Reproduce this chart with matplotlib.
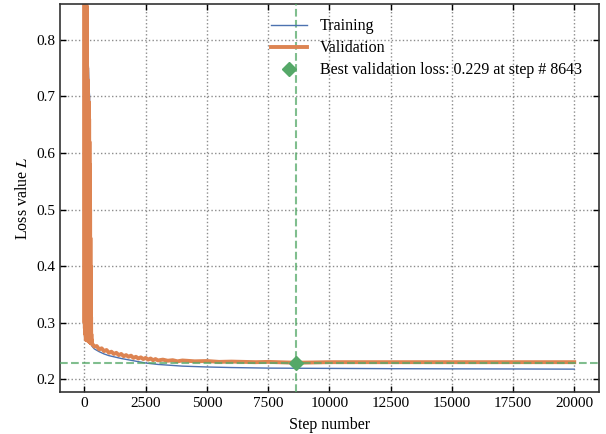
import numpy as np
import matplotlib
matplotlib.use("Agg")
import matplotlib.pyplot as plt

# training loss
train_steps = [0, 50, 100, 140, 160, 190, 210, 240, 270, 300, 400, 600, 800, 1000,
               1500, 2000, 2500, 3000, 4000, 5000, 6000, 7500, 10000, 12500,
               15000, 17500, 20000]
train_loss = [0.95, 0.90, 0.84, 0.76, 0.752, 0.71, 0.70, 0.48, 0.28, 0.259, 0.254,
              0.249, 0.245, 0.242, 0.237, 0.233, 0.229, 0.2265, 0.2235, 0.222,
              0.221, 0.220, 0.2195, 0.219, 0.2187, 0.2185, 0.2182]

# validation loss, first 300 steps (every 5 steps, very noisy)
val_steps_early = list(range(0, 300, 5))
val_loss_early = [1.00, 0.30, 0.96, 0.29, 0.93, 0.28, 0.91, 0.28, 0.90, 0.28,
                  0.89, 0.27, 0.88, 0.27, 0.87, 0.27, 0.86, 0.27, 0.80, 0.27,
                  0.76, 0.27, 0.75, 0.27, 0.73, 0.27, 0.71, 0.27, 0.70, 0.268,
                  0.70, 0.268, 0.69, 0.268, 0.69, 0.267, 0.68, 0.267, 0.66, 0.267,
                  0.62, 0.266, 0.58, 0.266, 0.55, 0.266, 0.50, 0.265, 0.45, 0.265,
                  0.40, 0.265, 0.35, 0.264, 0.31, 0.264, 0.28, 0.263, 0.27, 0.264]
# validation loss, rest of the run
val_steps_late = [300, 400, 500, 600, 700, 800, 900, 1000, 1100, 1200, 1300, 1400,
                  1500, 1600, 1700, 1800, 1900, 2000, 2100, 2200, 2300, 2400, 2500,
                  2600, 2700, 2800, 2900, 3000, 3200, 3400, 3600, 3800, 4000, 4500,
                  5000, 5500, 6000, 7000, 7500, 8643, 10000, 12500, 15000, 17500,
                  20000]
val_loss_late = [0.264, 0.258, 0.259, 0.253, 0.255, 0.250, 0.252, 0.247, 0.249,
                 0.245, 0.247, 0.243, 0.245, 0.241, 0.243, 0.240, 0.242, 0.238,
                 0.240, 0.237, 0.239, 0.236, 0.238, 0.235, 0.237, 0.234, 0.236,
                 0.2335, 0.235, 0.233, 0.234, 0.232, 0.2335, 0.232, 0.2325, 0.231,
                 0.2315, 0.2305, 0.231, 0.2295, 0.2305, 0.2305, 0.2305, 0.2305,
                 0.2305]

best_step = 8643
best_loss = 0.229

plt.rcParams['font.family'] = 'serif'
plt.rcParams['font.serif'] = ['Liberation Serif', 'DejaVu Serif']
plt.rcParams['mathtext.fontset'] = 'stix'
plt.rcParams['font.size'] = 11

fig = plt.figure(figsize=(6.06, 4.34), dpi=100)
ax = fig.add_axes([0.099, 0.097, 0.889, 0.894])

blue = '#4c72b0'
orange = '#dd8452'
green = '#55a868'

ax.plot(train_steps, train_loss, color=blue, lw=1.0, label='Training')
ax.plot(val_steps_early + val_steps_late, val_loss_early + val_loss_late,
        color=orange, lw=2.8, label='Validation')
ax.axvline(best_step, color=green, ls='--', lw=1.5, alpha=0.75, zorder=3)
ax.axhline(best_loss, color=green, ls='--', lw=1.5, alpha=0.75, zorder=3)
ax.plot([best_step], [best_loss], 'D', color=green, ms=7, ls='none', zorder=4,
        label='Best validation loss: %.3f at step # %d' % (best_loss, best_step))

ax.set_xlim(-1000, 21000)
ax.set_ylim(0.178, 0.863)
ax.set_xticks(np.arange(0, 20001, 2500))
ax.set_yticks([0.2, 0.3, 0.4, 0.5, 0.6, 0.7, 0.8])
ax.grid(True, ls=':', color='0.55', lw=1.0)
ax.tick_params(direction='in', top=True, right=True, length=4, width=1.0)
for s in ax.spines.values():
    s.set_color('0.2')
    s.set_linewidth(1.2)

ax.set_xlabel('Step number', labelpad=5, fontsize=11.5)
ax.set_ylabel('Loss value $L$', fontsize=11.5)
ax.legend(loc='upper center', bbox_to_anchor=(0.68, 1.0), frameon=False,
          handlelength=2.3, fontsize=11.5, labelspacing=0.38)

plt.savefig('out.png', dpi=100)
